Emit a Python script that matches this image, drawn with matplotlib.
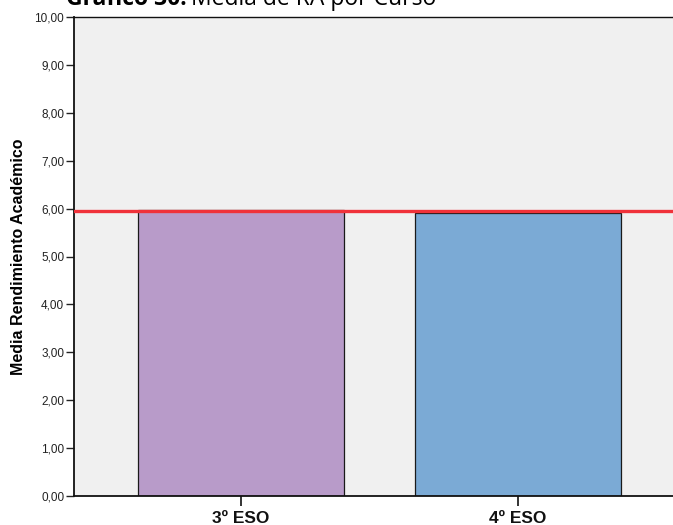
import matplotlib
matplotlib.use("Agg")
import matplotlib.pyplot as plt
from matplotlib.ticker import FuncFormatter

categories = ["3º ESO", "4º ESO"]
means = [5.98, 5.90]
overall_mean = 5.94
bar_colors = ["#B89BC9", "#7BAAD5"]
y_ticks = [0, 1, 2, 3, 4, 5, 6, 7, 8, 9, 10]

W, H = 673, 525
fig = plt.figure(figsize=(W / 100, H / 100), dpi=100)
fig.patch.set_facecolor("white")

left, right, top, bottom = 74, 673, 17, 496
ax = fig.add_axes([left / W, 1 - bottom / H, (right - left) / W, (bottom - top) / H])
ax.set_facecolor("#F0F0F0")

x = list(range(len(categories)))
ax.bar(x, means, width=0.744, color=bar_colors, edgecolor="#1a1a1a", linewidth=0.9, zorder=2)
ax.axhline(overall_mean, color="#F0323A", linewidth=2.4, zorder=3)

ax.set_xlim(-0.603, 1.560)
ax.set_ylim(0, 10)
ax.set_yticks(y_ticks)
ax.yaxis.set_major_formatter(FuncFormatter(lambda v, p: f"{v:.2f}".replace(".", ",")))
ax.set_xticks(x)
ax.set_xticklabels(categories, fontsize=12.5, fontweight="bold", family="Liberation Sans")
for lab in ax.get_yticklabels():
    lab.set_family("Liberation Sans")
    lab.set_fontsize(8.5)
ax.tick_params(axis="y", direction="out", length=6, width=1, pad=1, colors="#222222")
ax.tick_params(axis="x", direction="out", length=7, width=1.2, pad=4, colors="#111111")

for s in ["left", "bottom", "top"]:
    ax.spines[s].set_color("#111111")
ax.spines["left"].set_linewidth(1.3)
ax.spines["bottom"].set_linewidth(1.3)
ax.spines["top"].set_linewidth(1.0)
ax.spines["right"].set_visible(False)

ax.set_ylabel("Media Rendimiento Académico", fontsize=11.5, fontweight="bold",
              family="Liberation Sans", labelpad=6)

fig.text(66 / W, 1 - 5 / H, "Gráfico 30.", fontsize=16.5, fontweight="bold",
         family="Open Sans", va="baseline", ha="left")
fig.text(191 / W, 1 - 5 / H, "Media de RA por Curso", fontsize=16.5,
         family="Open Sans", va="baseline", ha="left")

fig.savefig("out.png", dpi=100)
